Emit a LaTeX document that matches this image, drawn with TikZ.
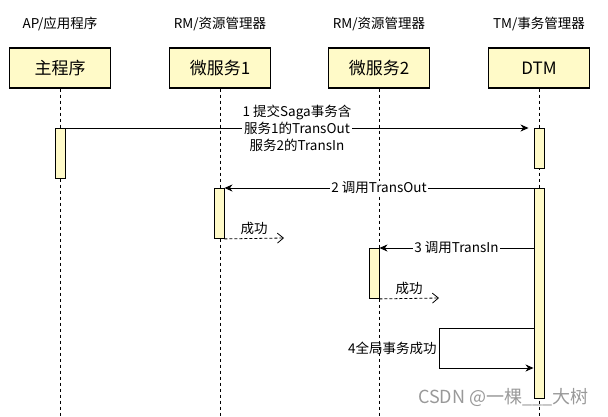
\documentclass[tikz,border=0pt]{standalone}
\usepackage{fontspec}
\setmainfont{Noto Sans CJK SC}
\usetikzlibrary{arrows.meta}

\definecolor{lifeyellow}{RGB}{255,250,200}

\tikzset{
	headbox/.style = {minimum width=101pt, minimum height=40pt, rectangle, draw, line width=1.2pt, fill=lifeyellow, font=\fontsize{17}{20}\selectfont, inner sep=0pt},
	headlabel/.style = {font=\fontsize{13.5}{16}\selectfont, inner sep=0pt},
	actbox/.style = {minimum width=10pt, rectangle, draw, line width=0.9pt, fill=lifeyellow, anchor=north, inner sep=0pt},
	lifeline/.style = {line width=0.8pt, dash pattern=on 3pt off 3pt},
	call/.style = {line width=1pt, -{Stealth[length=8pt, width=7pt, inset=2.5pt]}},
	reply/.style = {line width=0.8pt, dash pattern=on 3pt off 2pt, -{Straight Barb[length=6pt, width=10pt]}},
	msg/.style = {font=\fontsize{13.5}{17}\selectfont, inner sep=1pt, align=center}
}

\begin{document}
\begin{tikzpicture}[x = 1pt, y = -1pt]
	\useasboundingbox (0, 0) rectangle (608, 416);
	
	% Participants
	\node[headlabel] (apl) at (60, 24) {AP/应用程序};
	\node[headlabel] (rm1l) at (220, 24) {RM/资源管理器};
	\node[headlabel] (rm2l) at (379, 24) {RM/资源管理器};
	\node[headlabel] (tml) at (539, 24) {TM/事务管理器};
	
	\node[headbox] (ap) at (60, 68) {主程序};
	\node[headbox] (rm1) at (220, 68) {微服务1};
	\node[headbox] (rm2) at (379, 68) {微服务2};
	\node[headbox] (tm) at (539, 68) {DTM};
	
	% Lifelines
	\coordinate (apend) at (60, 416);
	\coordinate (rm1end) at (220, 416);
	\coordinate (rm2end) at (379, 416);
	\coordinate (tmend) at (539, 416);
	\draw[lifeline] (ap) -- (apend);
	\draw[lifeline] (rm1) -- (rm1end);
	\draw[lifeline] (rm2) -- (rm2end);
	\draw[lifeline] (tm) -- (tmend);
	
	% Activations
	\node[actbox, minimum height=50pt] (apact) at (60, 128) {};
	\node[actbox, minimum height=40pt] (tmact1) at (539, 128) {};
	\node[actbox, minimum height=50pt] (rm1act) at (219, 188) {};
	\node[actbox, minimum height=210pt] (tmact2) at (539, 188) {};
	\node[actbox, minimum height=50pt] (rm2act) at (374, 248) {};
	
	% Messages
	% Main program to DTM
	\draw[call] (apact.north east) -- node[msg, fill=white] {1 提交Saga事务含\\服务1的TransOut\\服务2的TransIn} ([xshift=-5pt]tmact1.north west);
	
	% DTM to services
	\draw[call] (tmact2.north west) -- node[msg, fill=white] {2 调用TransOut} (rm1act.north east);
	\draw[call] (rm2act.north east -| tmact2.west) -- node[msg, fill=white] {3 调用TransIn} (rm2act.north east);
	
	% Replies
	\coordinate (ret1) at (284, 238);
	\coordinate (ret2) at (439, 298);
	\draw[reply] (rm1act.south east) -- node[msg, above=2pt] {成功} (ret1);
	\draw[reply] (rm2act.south east) -- node[msg, above=2pt] {成功} (ret2);
	
	% Self call
	\coordinate (loopa) at (439, 328);
	\coordinate (loopb) at (439, 368);
	\draw[call] (loopa -| tmact2.west) -- (loopa) -- node[msg, left=1pt] {4全局事务成功} (loopb) -- (loopb -| tmact2.west);
	
	% Watermark
	\node[font=\fontsize{18}{20}\selectfont, text=black!40, anchor=east] (mark) at (592, 397) {CSDN @一棵\_\_\_大树};
\end{tikzpicture}
\end{document}
